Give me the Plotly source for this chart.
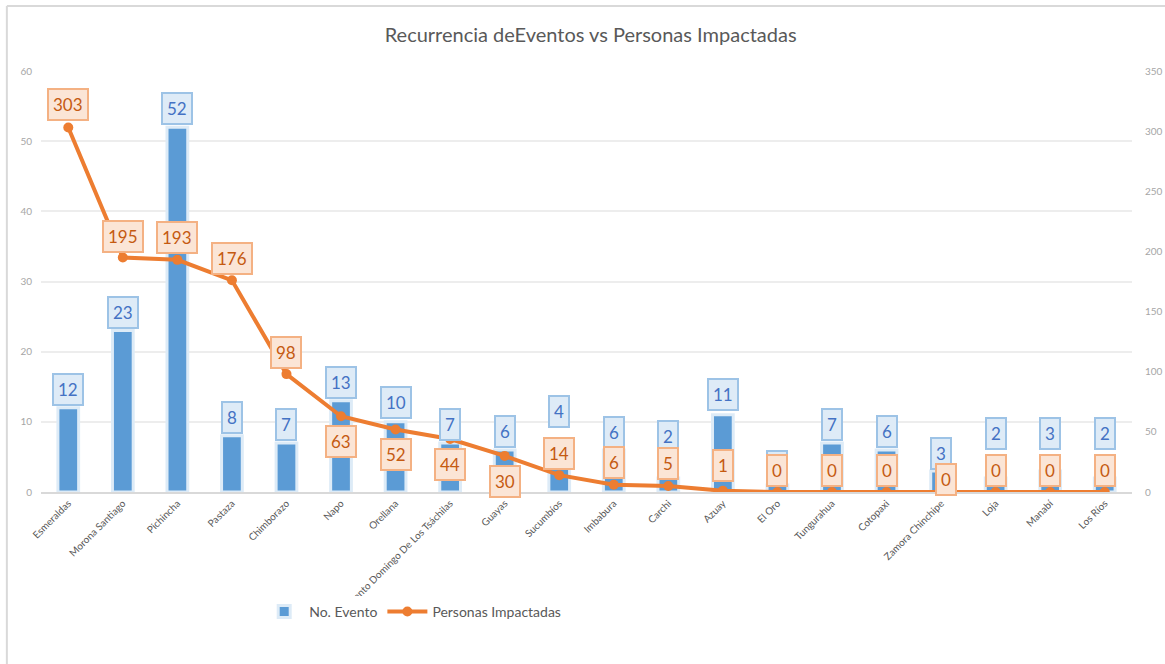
import plotly.graph_objects as go

categories = ["Esmeraldas", "Morona Santiago", "Pichincha", "Pastaza", "Chimborazo", "Napo",
              "Orellana", "Santo Domingo De Los Tsáchilas", "Guayas", "Sucumbíos", "Imbabura",
              "Carchi", "Azuay", "El Oro", "Tungurahua", "Cotopaxi", "Zamora Chinchipe", "Loja",
              "Manabí", "Los Ríos"]
eventos = [12, 23, 52, 8, 7, 13, 10, 7, 6, 4, 6, 2, 11, 1, 7, 6, 3, 2, 3, 2]
personas = [303, 195, 193, 176, 98, 63, 52, 44, 30, 14, 6, 5, 1, 0, 0, 0, 0, 0, 0, 0]
left_ticks = [0, 10, 20, 30, 40, 50, 60]
right_ticks = [0, 50, 100, 150, 200, 250, 300, 350]

# label offsets in pixels (style/position only)
blue_shift = [18, 18, 19, 18, 18, 18, 19, 18, 18, 52, 17, 41, 20, 18, 18, 18, 17, 44, 37, 44]
orange_shift = [23, 21, 22, 22, 22, -25, -25, -25, -26, 22, 22, 22, 25, 22, 22, 22, 13, 22, 22, 22]
orange_xshift = [0]*16 + [5, 0, 0, 0]

BLUE = "#5B9BD5"
ORANGE = "#ED7D31"
FONT = "Lato, 'Open Sans', sans-serif"

fig = go.Figure()
fig.add_trace(go.Bar(
    x=categories, y=eventos, name="No. Evento",
    marker=dict(color=BLUE, line=dict(color="#DDEBF7", width=3)),
    width=0.38, yaxis="y",
))
fig.add_trace(go.Scatter(
    x=categories, y=personas, name="Personas Impactadas", mode="lines+markers",
    line=dict(color=ORANGE, width=4), marker=dict(color=ORANGE, size=10),
    yaxis="y2",
))

annotations = []
for i, c in enumerate(categories):
    annotations.append(dict(
        x=c, y=eventos[i], xref="x", yref="y", text=str(eventos[i]), showarrow=False,
        yshift=blue_shift[i], font=dict(family=FONT, size=17, color="#4472C4"),
        bgcolor="#DEEBF7", bordercolor="#9DC3E6", borderwidth=2, borderpad=4,
    ))
for i, c in enumerate(categories):
    annotations.append(dict(
        x=c, y=personas[i], xref="x", yref="y2", text=str(personas[i]), showarrow=False,
        yshift=orange_shift[i], xshift=orange_xshift[i],
        font=dict(family=FONT, size=17, color="#C55A11"),
        bgcolor="#FBE5D6", bordercolor="#F4B183", borderwidth=2, borderpad=4,
    ))

fig.update_layout(
    width=1165, height=664,
    margin=dict(l=41, r=33, t=71, b=172),
    paper_bgcolor="white", plot_bgcolor="white",
    font=dict(family=FONT, color="#595959"),
    title=dict(text="Recurrencia deEventos vs Personas Impactadas", x=0.507, xanchor="center",
               y=0.947, yanchor="middle", font=dict(size=20, color="#595959", family=FONT)),
    showlegend=True,
    legend=dict(orientation="h", x=0.2, xanchor="left", y=-0.285, yanchor="middle",
                font=dict(size=14, color="#595959", family=FONT), itemwidth=40),
    xaxis=dict(tickangle=-45, tickfont=dict(size=10, color="#595959", family=FONT),
               range=[-0.5, len(categories) - 0.5],
               showgrid=False, showline=True, linecolor="#D9D9D9", linewidth=1.5,
               ticks="", automargin=False),
    yaxis=dict(range=[0, 60], tickvals=left_ticks, showgrid=True, gridcolor="#EDEDED",
               gridwidth=1.5, zeroline=False, tickfont=dict(size=10, color="#A6A6A6", family=FONT),
               ticks="", automargin=False, ticklabelstandoff=8),
    yaxis2=dict(range=[0, 350], tickvals=right_ticks, overlaying="y", side="right",
                showgrid=False, zeroline=False, tickfont=dict(size=10, color="#A6A6A6", family=FONT),
                ticks="", automargin=False, ticklabelstandoff=12),
    annotations=annotations,
    shapes=[
        dict(type="line", xref="paper", yref="paper", x0=-0.0313, x1=-0.0313, y0=-0.41, y1=1.1544,
             line=dict(color="#D9D9D9", width=2)),
        dict(type="line", xref="paper", yref="paper", x0=-0.0313, x1=1.05, y0=1.1544, y1=1.1544,
             line=dict(color="#D9D9D9", width=2)),
    ],
)

fig.write_html("out.html", config={"displayModeBar": False},
               post_script="document.body.style.margin='0';")
